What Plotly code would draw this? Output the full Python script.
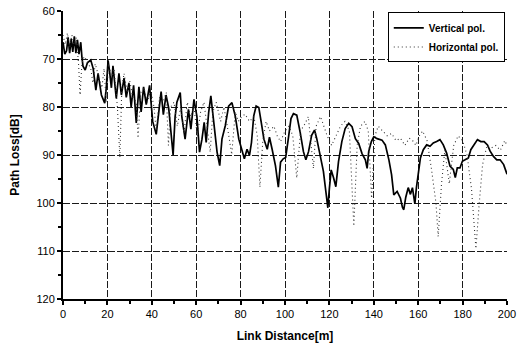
import plotly.graph_objects as go

# Vertical polarization (solid)
vert_x = [0, 0.8, 1.6, 2.3, 3, 3.7, 4.4, 5.1, 5.8, 6.5, 7.2, 8, 8.5, 9, 10, 11, 12.5, 13.6, 14.8, 15.8,
          17.3, 18.8, 19.5, 20.3, 21, 21.8, 22.5, 24, 25.2, 26.3, 27.5, 28.5, 29.7, 30.7, 31.8, 33, 34.2,
          35.2, 36.3, 37.5, 39, 40.4, 42, 43, 44.2, 45.2, 46.4, 47.6, 48.7, 49.6, 50.5, 51.3, 52.8, 53.5,
          55, 56.5, 57.6, 59, 60.3, 61.5, 62.6, 63.6, 64.5, 65.6, 66.6, 67.8, 69.4, 70.6, 71.6, 73.1,
          74.6, 76.1, 77.6, 79.2, 80.7, 81.7, 82.9, 84, 84.9, 85.9, 87, 88.2, 89.3, 90.5, 92, 93, 94.2,
          95.7, 97, 98, 99.2, 100.3, 101.5, 102.7, 103.8, 105.3, 106.8, 108.3, 109.4, 110.6, 112, 113.3,
          114.3, 115.8, 117.3, 118.4, 119.3, 120, 120.8, 121.9, 122.9, 124.1, 125.6, 127.1, 128.7, 130.2,
          131.7, 133.2, 134.7, 136.2, 137, 137.7, 138.9, 140, 141.5, 143.7, 145.2, 146.8, 148, 149,
          150.5, 152, 152.9, 153.5, 154.4, 155.5, 156.5, 157.4, 158.5, 159.2, 160, 161, 162.3, 163.8,
          165.3, 166.8, 168.3, 169.8, 171.3, 172.8, 174.3, 175.8, 176.7, 177.6, 178.8, 179.9, 181.1,
          182.6, 183.7, 185.2, 186.7, 188.2, 189.7, 191.2, 192.4, 193.9, 195.4, 196.9, 198.5, 200]
vert_y = [66.5, 69, 68.3, 65.5, 68.8, 65.8, 68.5, 65.3, 68.8, 66, 69, 66.5, 69.5, 71.5, 72.3, 70.8, 70.2,
          72, 76.5, 73, 77.5, 79.2, 76, 70.3, 72.7, 76, 71.4, 78.2, 73, 77.5, 74, 78, 75, 80, 75.5, 83.3,
          75.8, 81, 75.8, 79.5, 75.5, 83, 85.7, 81, 76.8, 81.6, 77.5, 80.2, 86.4, 90, 82, 79, 77, 81.9,
          86.7, 80.5, 84.6, 78.4, 81.9, 89.4, 86.7, 83.2, 87.4, 81.2, 77.7, 83.2, 89.4, 92.2, 86.7, 83.9,
          79.8, 79.1, 81.9, 86.7, 89.1, 90.8, 88.8, 90.1, 87.4, 81.9, 79.8, 80.1, 83.2, 86.7, 88.8, 86.3,
          88.8, 92.2, 96.7, 91.5, 90.8, 90.5, 86.6, 82.4, 81.4, 81.7, 85.2, 89.3, 91, 89.3, 85.9, 84.8,
          86.6, 90, 93.4, 97.6, 101, 96.9, 93.1, 94.8, 96.6, 91.4, 87.2, 84.5, 83.4, 84.1, 86.6, 87.6,
          89.7, 91, 92.8, 89.3, 87.2, 86.2, 86.6, 86.9, 87.9, 91, 94.1, 98.3, 97.6, 99, 100.9, 101.4,
          98.8, 96.8, 98.2, 96.8, 100.2, 96.8, 94, 90.6, 88.9, 87.9, 88.2, 87.5, 87.2, 86.8, 87.9, 89.6,
          92.3, 93, 94.7, 92.7, 92.7, 91.3, 91, 90.6, 88.9, 87.9, 86.8, 87.2, 87.2, 87.9, 89.2, 90.3,
          91, 91, 92, 94]

# Horizontal polarization (dotted)
horiz_x = [0, 1, 2, 3, 4, 5, 6, 7, 7.7, 8.5, 9.5, 11, 12.5, 13.5, 14.5, 16, 17.5, 18.5, 19.5, 20.5, 22,
           23, 24.5, 25.6, 26.5, 27.5, 29, 30, 31.5, 33, 33.8, 35, 36.5, 38, 39.5, 41, 42, 43.5, 45,
           46.5, 47.5, 48.5, 50, 51.5, 53, 54.5, 56, 57.5, 59, 60.5, 62, 63.5, 65, 66.3, 67.5, 69, 71,
           72.5, 74, 76, 77.6, 79, 80.5, 82, 84, 86, 87.5, 88.7, 90, 91.5, 93, 95, 96.5, 98, 100, 101.8,
           103.5, 105.3, 107, 109, 110.5, 112.8, 114, 116, 117.5, 119, 121, 123, 125, 127, 129, 131,
           132.5, 134, 136, 137.5, 139, 140.5, 142, 144, 146, 148, 150, 152, 154, 156, 157.5, 159,
           160.5, 162, 164, 166, 168, 169, 170.5, 172, 174, 176, 178, 180, 182, 184, 186, 187.5, 189,
           191, 193, 195, 197, 199, 200]
horiz_y = [65, 67, 64.6, 67.5, 65, 67, 65.5, 71, 77.5, 71, 69.5, 70.5, 72, 75, 71, 73.5, 76, 72, 79, 71,
           74, 72, 80, 90.5, 76, 73, 77, 74.5, 78, 79, 86.5, 77, 76, 79, 76.5, 80, 85, 78, 79, 77, 88,
           80, 79, 84, 80, 85.5, 79, 82, 80, 86, 81, 79, 84, 89.4, 81, 79, 83, 80, 84, 89.9, 81, 83, 82,
           81.5, 83, 82, 86, 96.7, 87, 83, 85, 84, 86, 87.2, 85, 84, 86, 94.8, 85, 83.5, 82, 92.8, 84,
           82, 84, 86, 88, 86, 84, 83, 85, 104.8, 88, 84, 83, 85, 99, 86, 84, 85, 86, 85.5, 87, 86.5,
           88, 86.5, 87, 88, 86, 85, 87, 93, 100, 107, 96, 89, 96, 88, 86, 87, 90, 97, 109.5, 100, 92,
           88, 88.5, 88, 89, 87, 88]

x_ticks = [0, 20, 40, 60, 80, 100, 120, 140, 160, 180, 200]
y_ticks = [60, 70, 80, 90, 100, 110, 120]

FONT = "Liberation Sans, Arial, sans-serif"

fig = go.Figure()
fig.add_trace(go.Scatter(x=vert_x, y=vert_y, mode="lines", name="<b>Vertical pol.</b>",
                         line=dict(color="black", width=1.7)))
fig.add_trace(go.Scatter(x=horiz_x, y=horiz_y, mode="lines", name="<b>Horizontal pol.</b>",
                         line=dict(color="#333333", width=1.1, dash="1px,3px")))

grid = dict(showgrid=True, gridcolor="#1a1a1a", gridwidth=1, griddash="7px,2px")

fig.update_xaxes(range=[0, 200], tickvals=x_ticks, ticks="outside", ticklen=4, tickwidth=1.5,
                 tickcolor="black", showline=True, linecolor="black", linewidth=2,
                 minor=dict(dtick=10, ticks="outside", ticklen=3, tickcolor="black", showgrid=False),
                 zeroline=False, automargin=False, ticklabeloverflow="allow",
                 title=dict(text="<b>Link Distance[m]</b>", font=dict(size=12, family=FONT, color="black"),
                            standoff=12),
                 tickfont=dict(size=11, family=FONT, color="black"), **grid)
fig.update_yaxes(range=[120, 60], tickvals=y_ticks, ticks="outside", ticklen=4, tickwidth=1.5,
                 tickcolor="black", showline=True, linecolor="black", linewidth=2,
                 minor=dict(dtick=5, ticks="outside", ticklen=3, tickcolor="black", showgrid=False),
                 zeroline=False, automargin=False, ticklabeloverflow="allow",
                 title=dict(text="<b>Path Loss[dB]</b>", font=dict(size=12, family=FONT, color="black"),
                            standoff=14),
                 tickfont=dict(size=11, family=FONT, color="black"), **grid)

fig.update_layout(
    width=521, height=347,
    margin=dict(l=63, r=14, t=11, b=48),
    paper_bgcolor="white", plot_bgcolor="white",
    font=dict(family=FONT, color="black"),
    legend=dict(x=0.995, y=0.995, xanchor="right", yanchor="top", bgcolor="white",
                bordercolor="black", borderwidth=1,
                font=dict(size=10, family=FONT, color="black"),
                itemwidth=30, tracegroupgap=0),
)

# Remove the default 8px page margin so the figure fills the 521x347 window exactly.
fig.write_html("out.html", config={"displayModeBar": False},
               post_script="document.body.style.margin='0';document.body.style.overflow='hidden';")
